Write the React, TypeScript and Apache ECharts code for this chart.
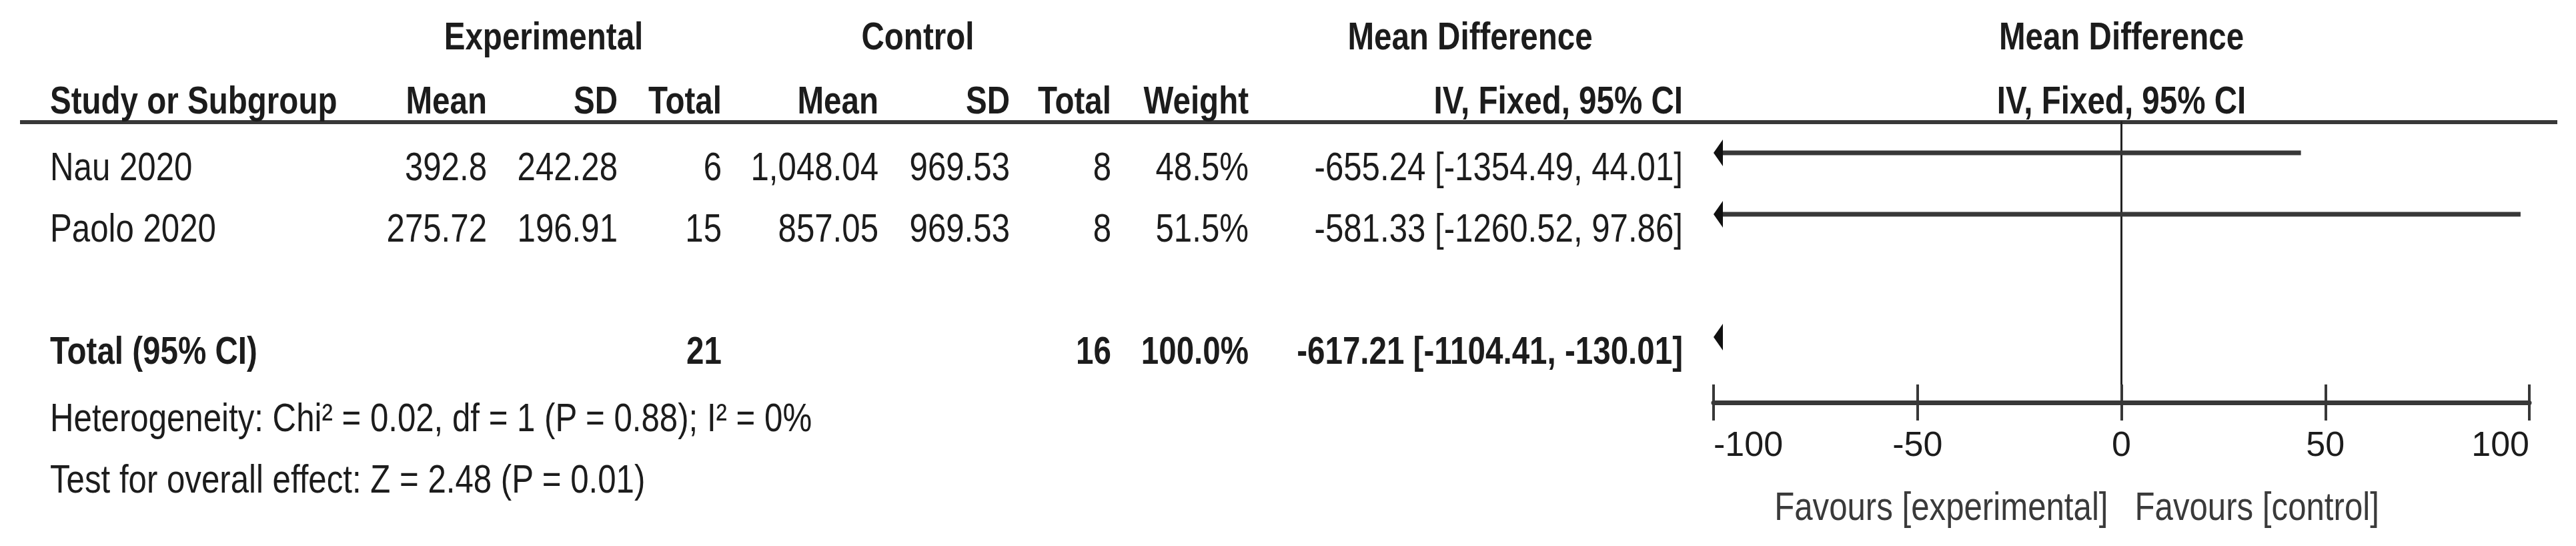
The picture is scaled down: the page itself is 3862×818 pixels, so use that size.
import { useEffect, useRef } from "react";
import * as echarts from "echarts";

// ---------------- data ----------------
const studies = ["Nau 2020", "Paolo 2020"];
const studyRows = [0, 1];
const expMean = [392.8, 275.72];
const expSD = [242.28, 196.91];
const expTotal = [6, 15];
const ctlMean = [1048.04, 857.05];
const ctlSD = [969.53, 969.53];
const ctlTotal = [8, 8];
const weights = [48.5, 51.5];
const mdMean = [-655.24, -581.33];
const mdLower = [-1354.49, -1260.52];
const mdUpper = [44.01, 97.86];

const totalLabel = "Total (95% CI)";
const totalRow = 3;
const totalExp = 21;
const totalCtl = 16;
const totalWeight = 100.0;
const totalMean = -617.21;
const totalLower = -1104.41;
const totalUpper = -130.01;

const groupHeaders = ["Experimental", "Control", "Mean Difference", "Mean Difference"];
const columnHeaders = ["Study or Subgroup", "Mean", "SD", "Total", "Mean", "SD", "Total", "Weight", "IV, Fixed, 95% CI", "IV, Fixed, 95% CI"];
const heterogeneityText = "Heterogeneity: Chi\u00B2 = 0.02, df = 1 (P = 0.88); I\u00B2 = 0%";
const overallEffectText = "Test for overall effect: Z = 2.48 (P = 0.01)";

const axisMin = -100;
const axisMax = 100;
const axisStep = 50;
const favoursLeft = "Favours [experimental]";
const favoursRight = "Favours [control]";

// ---------------- layout ----------------
const W = 3862;
const H = 818;
const PLOT_L = 2569;
const PLOT_R = 3792;
const PLOT_T = 183;
const PLOT_B = 603;
const ROW_H = 92;
const ROW_MIN = -0.5;
const ROW_MAX = ROW_MIN + (PLOT_B - PLOT_T) / ROW_H;
const TEXT_DY = 20;
const ZERO_X = (PLOT_L + PLOT_R) / 2;

const FONT = "'Liberation Sans', Arial, sans-serif";
const FS = 60;
const FS_B = 58;
const NARROW = 0.82;
const INK = "#1c1c1c";
const LINE = "#383838";

// right edges of the table columns (study column is left-aligned)
const COL_STUDY = 75;
const COL_X = [730, 926, 1082, 1317, 1514, 1666, 1872, 2523];
const GROUP_X = [815, 1376, 2204, ZERO_X];
const HEAD1_Y = 54;
const HEAD2_Y = 150;
const HET_Y = 625;
const TEST_Y = 717;
const FAV_Y = 758;

const ARROW_W = 14;
const ARROW_H = 20;

const fmtNum = (v: number) => v.toLocaleString("en-US", { maximumFractionDigits: 2 });
const ciText = (m: number, l: number, u: number) => `${m.toFixed(2)} [${l.toFixed(2)}, ${u.toFixed(2)}]`;

function txt(text: string, x: number, y: number, align: string, bold: boolean, color = INK) {
  return {
    type: "text",
    x,
    y,
    scaleX: NARROW,
    scaleY: 1,
    silent: true,
    style: {
      text,
      fill: color,
      fontSize: bold ? FS_B : FS,
      fontFamily: FONT,
      fontWeight: bold ? "bold" : "normal",
      align,
      textAlign: align,
      verticalAlign: "middle",
      textVerticalAlign: "middle",
    },
  };
}

function ciShape(params: any, api: any) {
  const row = api.value(0);
  const m = api.value(1);
  const lo = api.value(2);
  const hi = api.value(3);
  const children: any[] = [];
  const y = api.coord([0, row])[1];
  const leftArrow = lo < axisMin;
  const rightArrow = hi > axisMax;
  const xMinPx = api.coord([axisMin, row])[0];
  const xMaxPx = api.coord([axisMax, row])[0];
  if (hi >= axisMin && lo <= axisMax) {
    const x1 = leftArrow ? xMinPx + ARROW_W : api.coord([lo, row])[0];
    const x2 = rightArrow ? xMaxPx - ARROW_W : api.coord([hi, row])[0];
    children.push({ type: "line", shape: { x1, y1: y, x2, y2: y }, style: { stroke: LINE, lineWidth: 7 } });
  }
  if (leftArrow) {
    children.push({
      type: "polygon",
      shape: { points: [[xMinPx, y], [xMinPx + ARROW_W, y - ARROW_H], [xMinPx + ARROW_W, y + ARROW_H]] },
      style: { fill: "#111" },
    });
  }
  if (rightArrow) {
    children.push({
      type: "polygon",
      shape: { points: [[xMaxPx, y], [xMaxPx - ARROW_W, y - ARROW_H], [xMaxPx - ARROW_W, y + ARROW_H]] },
      style: { fill: "#111" },
    });
  }
  if (m >= axisMin && m <= axisMax) {
    const p = api.coord([m, row]);
    children.push({ type: "rect", shape: { x: p[0] - 10, y: p[1] - 10, width: 20, height: 20 }, style: { fill: "#2e7d32" } });
  }
  return { type: "group", children };
}

function studyTable(params: any, api: any) {
  const row = api.value(0);
  const i = api.value(1);
  const y = api.coord([0, row])[1] + TEXT_DY;
  const cells = [
    fmtNum(expMean[i]),
    fmtNum(expSD[i]),
    String(expTotal[i]),
    fmtNum(ctlMean[i]),
    fmtNum(ctlSD[i]),
    String(ctlTotal[i]),
    `${weights[i].toFixed(1)}%`,
    ciText(mdMean[i], mdLower[i], mdUpper[i]),
  ];
  const children: any[] = [txt(studies[i], COL_STUDY, y, "left", false)];
  cells.forEach((c, k) => children.push(txt(c, COL_X[k], y, "right", false)));
  return { type: "group", children };
}

function totalTable(params: any, api: any) {
  const row = api.value(0);
  const y = api.coord([0, row])[1] + TEXT_DY;
  return {
    type: "group",
    children: [
      txt(totalLabel, COL_STUDY, y, "left", true),
      txt(String(totalExp), COL_X[2], y, "right", true),
      txt(String(totalCtl), COL_X[5], y, "right", true),
      txt(`${totalWeight.toFixed(1)}%`, COL_X[6], y, "right", true),
      txt(ciText(totalMean, totalLower, totalUpper), COL_X[7], y, "right", true),
    ],
  };
}

export default function App() {
  const ref = useRef<HTMLDivElement>(null);
  useEffect(() => {
    document.body.style.margin = "0";
    document.body.style.background = "#fff";
    const chart = echarts.init(ref.current!, undefined, { renderer: "svg" });
    const headerAligns2 = ["left", "right", "right", "right", "right", "right", "right", "right", "right", "center"];
    const headerX2 = [COL_STUDY, ...COL_X, ZERO_X];
    const graphics: any[] = [
      { type: "line", silent: true, shape: { x1: 30, y1: PLOT_T, x2: 3834, y2: PLOT_T }, style: { stroke: LINE, lineWidth: 6 } },
      ...groupHeaders.map((h, k) => txt(h, GROUP_X[k], HEAD1_Y, "center", true)),
      ...columnHeaders.map((h, k) => txt(h, headerX2[k], HEAD2_Y, headerAligns2[k], true)),
      txt(heterogeneityText, COL_STUDY, HET_Y, "left", false),
      txt(overallEffectText, COL_STUDY, TEST_Y, "left", false),
      txt(favoursLeft, ZERO_X - 20, FAV_Y, "right", false, "#3a3a3a"),
      txt(favoursRight, ZERO_X + 20, FAV_Y, "left", false, "#3a3a3a"),
    ];
    chart.setOption({
      animation: false,
      backgroundColor: "#fff",
      grid: { left: PLOT_L, right: W - PLOT_R, top: PLOT_T, bottom: H - PLOT_B, containLabel: false },
      xAxis: [
        {
          type: "value",
          min: axisMin,
          max: axisMax,
          interval: axisStep,
          position: "bottom",
          splitLine: { show: false },
          axisLine: { show: true, onZero: false, lineStyle: { color: LINE, width: 7 } },
          axisTick: { show: true, length: 27, lineStyle: { color: LINE, width: 4 } },
          axisLabel: {
            show: true,
            margin: 36,
            fontSize: 52,
            fontFamily: FONT,
            color: INK,
            alignMinLabel: "left",
            alignMaxLabel: "right",
          },
        },
        {
          type: "value",
          min: axisMin,
          max: axisMax,
          interval: axisStep,
          position: "bottom",
          splitLine: { show: false },
          axisLine: { show: false, onZero: false },
          axisTick: { show: true, inside: true, length: 27, lineStyle: { color: LINE, width: 4 } },
          axisLabel: { show: false },
        },
      ],
      yAxis: {
        type: "value",
        inverse: true,
        min: ROW_MIN,
        max: ROW_MAX,
        splitLine: { show: false },
        axisTick: { show: false },
        axisLabel: { show: false },
        axisLine: { show: true, onZero: true, lineStyle: { color: "#222", width: 3 } },
      },
      series: [
        {
          type: "custom",
          name: "studies",
          silent: true,
          clip: false,
          renderItem: ciShape,
          encode: { x: [1, 2, 3], y: 0 },
          data: studyRows.map((r, i) => [r, mdMean[i], mdLower[i], mdUpper[i]]),
        },
        {
          type: "custom",
          name: "total",
          silent: true,
          clip: false,
          renderItem: ciShape,
          encode: { x: [1, 2, 3], y: 0 },
          data: [[totalRow, totalMean, totalLower, totalUpper]],
        },
        {
          type: "custom",
          name: "studyTable",
          silent: true,
          clip: false,
          renderItem: studyTable,
          encode: { y: 0 },
          data: studyRows.map((r, i) => [r, i]),
        },
        {
          type: "custom",
          name: "totalTable",
          silent: true,
          clip: false,
          renderItem: totalTable,
          encode: { y: 0 },
          data: [[totalRow]],
        },
      ],
      graphic: graphics,
    });
    return () => chart.dispose();
  }, []);
  return <div ref={ref} style={{ width: W, height: H }} />;
}
